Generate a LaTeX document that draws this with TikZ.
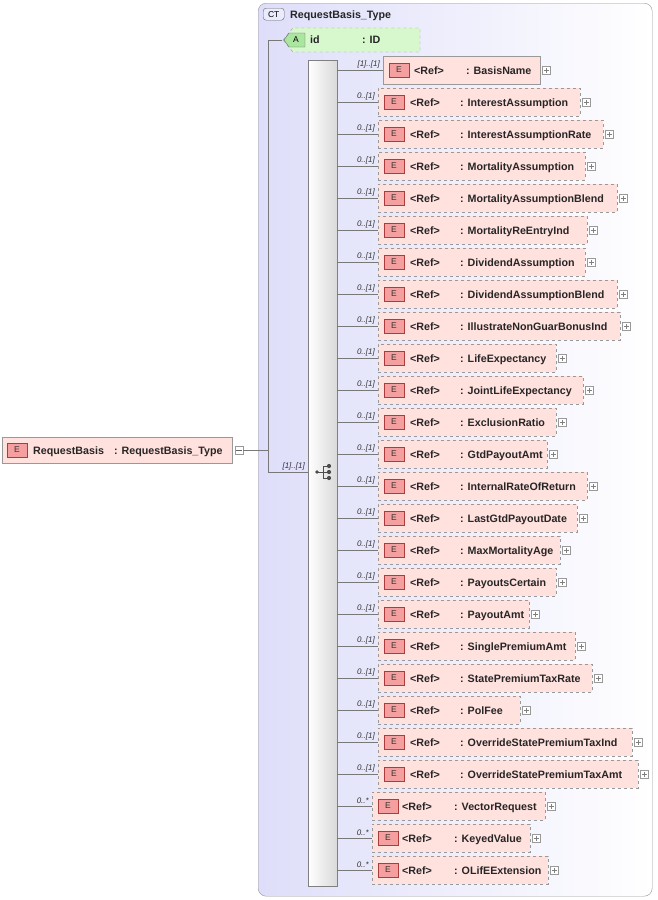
\documentclass[tikz,border=0pt]{standalone}
\usepackage{fontspec}
\setmainfont{Liberation Sans}
\usetikzlibrary{shapes.geometric}
\definecolor{ctfill}{RGB}{222,222,250}
\definecolor{ctedge}{RGB}{150,150,150}
\definecolor{efill}{RGB}{255,225,222}
\definecolor{ebadge}{RGB}{245,160,160}
\definecolor{ebadgeedge}{RGB}{170,60,60}
\definecolor{afill}{RGB}{215,248,205}
\definecolor{abadge}{RGB}{170,230,160}
\definecolor{lin}{RGB}{120,120,120}
\tikzset{
  x=1pt,y=-1pt,
  txt/.style={font=\fontsize{10.7}{12}\selectfont\bfseries,anchor=base west,inner sep=0pt,text=black!85},
  card/.style={font=\fontsize{8}{8}\selectfont\itshape,anchor=south east,inner sep=0pt,text=black!80},
  badge/.style={draw=ebadgeedge,fill=ebadge,inner sep=0pt,minimum width=20pt,minimum height=14pt,font=\fontsize{8.5}{9}\selectfont,text=black!80},
  plusbox/.style={draw=black!40,fill=white,minimum size=8pt,inner sep=0pt},
  conn/.style={draw=lin,line width=0.6pt}
}
\begin{document}
\begin{tikzpicture}
\useasboundingbox (0,0) rectangle (657,900);
% complex type box
\node[draw=ctedge,rounded corners=8pt,left color=ctfill,right color=white,minimum width=394pt,minimum height=893pt,anchor=north west,inner sep=0pt] (ct) at (258,3) {};
\node[draw=black!60,fill=ctfill!70!blue!20,rounded corners=3pt,inner sep=0pt,minimum width=21pt,minimum height=12pt,font=\fontsize{8.5}{9}\selectfont,anchor=north west] (ctb) at (263,8) {CT};
\node[txt] (ctt) at (290,18) {RequestBasis\_Type};
% attribute
\fill[afill,draw=black!40,dashed] (283,40) -- (293,28) -- (420,28) -- (420,52) -- (293,52) -- cycle;
\node[inner sep=0pt,minimum width=1pt,minimum height=1pt] (attr) at (283,40) {};
\fill[abadge,draw=black!60] (284,40) -- (289,33) -- (305,33) -- (305,47) -- (289,47) -- cycle;
\node[font=\fontsize{8.5}{9}\selectfont] at (296,40) {A};
\node[txt] at (310,43) {id};
\node[txt] at (362,43) {: ID};
% main element
\node[draw=black!40,fill=efill,minimum width=230pt,minimum height=26pt,anchor=west,inner sep=0pt] (main) at (2,450) {};
\node[badge] at (17,450) {E};
\node[txt] at (33,454) {RequestBasis};
\node[txt] at (114,454) {: RequestBasis\_Type};
\node[plusbox] (mminus) at (239,450) {};
\draw[black!60] (236,450) -- (242,450);
% sequence bar
\node[draw=black!50,left color=white,right color=black!15,minimum width=29pt,minimum height=826pt,anchor=north west,inner sep=0pt] (seq) at (308,60) {};
\coordinate (j) at (268,450);
\draw[conn] (mminus.east) -- (j);
\draw[conn] (attr) -| (268,472) -- (seq.west |- 0,472);
\node[card] at (305,470) {[1]..[1]};
% sequence icon
\fill[black!70] (317,472) circle (1.8pt);
\draw[black!70,line width=0.8pt] (317,472) -- (323,472) (323,466) -- (323,478) (323,466) -- (329,466) (323,478)--(329,478) (323,472)--(329,472);
\foreach \yy in {466,472,478} \fill[black!70] (329,\yy) circle (2.1pt);
% children
\foreach [count=\i from 0] \nm/\re/\lx/\cd/\sty in {
BasisName/540/383/{[1]..[1]}/solid,
InterestAssumption/580/378/{0..[1]}/dashed,
InterestAssumptionRate/603/378/{0..[1]}/dashed,
MortalityAssumption/585/378/{0..[1]}/dashed,
MortalityAssumptionBlend/617/378/{0..[1]}/dashed,
MortalityReEntryInd/587/378/{0..[1]}/dashed,
DividendAssumption/585/378/{0..[1]}/dashed,
DividendAssumptionBlend/617/378/{0..[1]}/dashed,
IllustrateNonGuarBonusInd/620/378/{0..[1]}/dashed,
LifeExpectancy/556/378/{0..[1]}/dashed,
JointLifeExpectancy/583/378/{0..[1]}/dashed,
ExclusionRatio/556/378/{0..[1]}/dashed,
GtdPayoutAmt/547/378/{0..[1]}/dashed,
InternalRateOfReturn/587/378/{0..[1]}/dashed,
LastGtdPayoutDate/577/378/{0..[1]}/dashed,
MaxMortalityAge/560/378/{0..[1]}/dashed,
PayoutsCertain/556/378/{0..[1]}/dashed,
PayoutAmt/529/378/{0..[1]}/dashed,
SinglePremiumAmt/575/378/{0..[1]}/dashed,
StatePremiumTaxRate/592/378/{0..[1]}/dashed,
PolFee/520/378/{0..[1]}/dashed,
OverrideStatePremiumTaxInd/632/378/{0..[1]}/dashed,
OverrideStatePremiumTaxAmt/638/378/{0..[1]}/dashed,
VectorRequest/545/372/{0..*}/dashed,
KeyedValue/530/372/{0..*}/dashed,
OLifEExtension/548/372/{0..*}/dashed}{
  \pgfmathsetmacro{\yc}{70+32*\i}
  \pgfmathsetmacro{\bw}{\re-\lx}
  \pgfmathsetmacro{\refx}{\lx==383?31:(\lx==372?30:32)}
  \pgfmathsetmacro{\namex}{\lx==383?83:82}
  \node[draw=black!40,\sty,fill=efill,minimum width=\bw pt,minimum height=28pt,anchor=west,inner sep=0pt] (c\i) at (\lx,\yc) {};
  \draw[conn] (seq.east |- c\i.west) -- (c\i.west);
  \node[card] at ([xshift=-3pt,yshift=2pt]c\i.west) {\cd};
  \node[badge] at ([xshift=16pt]c\i.west) {E};
  \node[txt] at ([xshift=\refx pt,yshift=-4pt]c\i.west) {<Ref>};
  \node[txt] at ([xshift=\namex pt,yshift=-4pt]c\i.west) {: \nm};
  \node[plusbox] (p\i) at ([xshift=6pt]c\i.east) {};
  \draw[black!50] ([xshift=-2.5pt]p\i.center) -- ([xshift=2.5pt]p\i.center) ([yshift=-2.5pt]p\i.center) -- ([yshift=2.5pt]p\i.center);
}
\end{tikzpicture}
\end{document}
